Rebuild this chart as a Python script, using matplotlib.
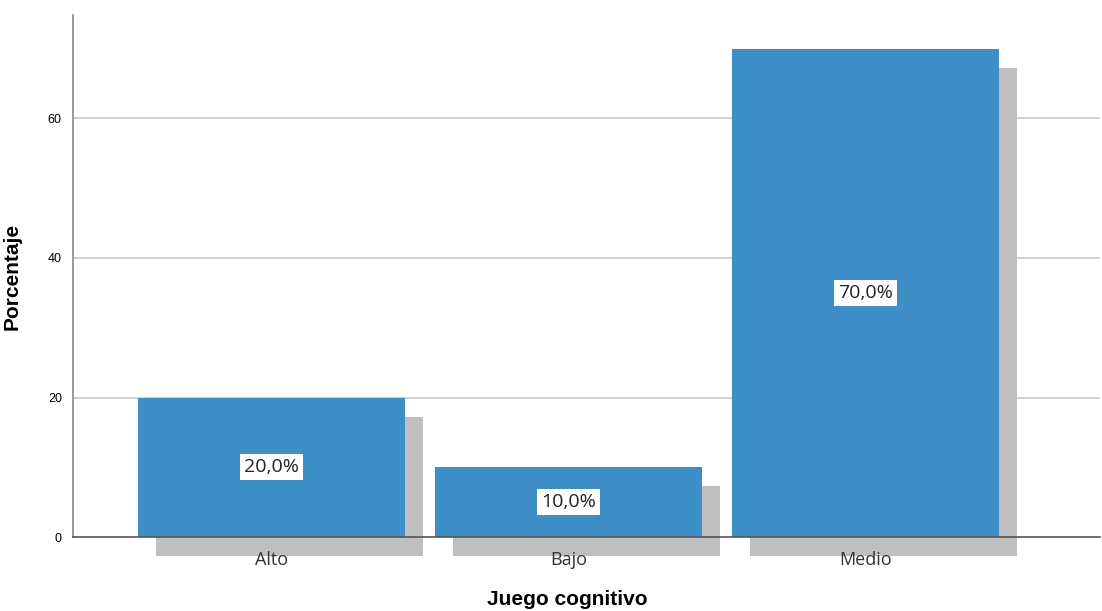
import matplotlib.pyplot as plt
import matplotlib.transforms as mtransforms

categorias = ['Alto', 'Bajo', 'Medio']
porcentajes = [20.0, 10.0, 70.0]
yticks = [0, 20, 40, 60]

color_barra = '#3E8EC7'
color_sombra = '#BFBFBF'

fig = plt.figure(figsize=(11.02, 6.11), dpi=100)
ax = fig.add_axes([0.0662, 0.1211, 0.9318, 0.8544])

x = list(range(len(categorias)))
ancho = 0.899

# sombra desplazada unos pixeles a la derecha y abajo
desplazamiento = mtransforms.ScaledTranslation(18.5 / 100, -19 / 100, fig.dpi_scale_trans)
ax.bar(x, porcentajes, width=ancho, color=color_sombra, zorder=1,
       transform=ax.transData + desplazamiento, clip_on=False)
ax.bar(x, porcentajes, width=ancho, color=color_barra, zorder=2)

for xi, v in zip(x, porcentajes):
    ax.text(xi, v / 2, f'{v:.1f}%'.replace('.', ','), ha='center', va='center',
            fontsize=14, family='Open Sans', color='#222222', zorder=4,
            bbox=dict(facecolor='white', edgecolor='none', pad=3))

ax.set_xlim(-0.668, 2.79)
ax.set_ylim(0, 74.84)
ax.set_yticks(yticks)
ax.set_yticklabels([str(t) for t in yticks], fontsize=9, family='Liberation Sans')
ax.set_xticks(x)
ax.set_xticklabels(categorias, fontsize=13, family='Open Sans', color='#333333')
ax.tick_params(axis='both', length=0)
ax.tick_params(axis='x', pad=10)
ax.tick_params(axis='y', pad=8)

for t in yticks[1:]:
    ax.axhline(t, color='#C8C8C8', lw=1.2, zorder=0)
ax.axhline(0, color='#555555', lw=1.2, zorder=3, clip_on=False)

for s in ['top', 'right', 'bottom']:
    ax.spines[s].set_visible(False)
ax.spines['left'].set_color('#888888')
ax.spines['left'].set_linewidth(1.2)

ax.set_ylabel('Porcentaje', fontsize=15, fontweight='bold', family='Liberation Sans')
ax.set_xlabel('Juego cognitivo', fontsize=15, fontweight='bold', family='Liberation Sans')
ax.yaxis.set_label_coords(-0.0497, 0.5)
ax.xaxis.set_label_coords(0.481, -0.102)

fig.savefig('out.png', dpi=100)
